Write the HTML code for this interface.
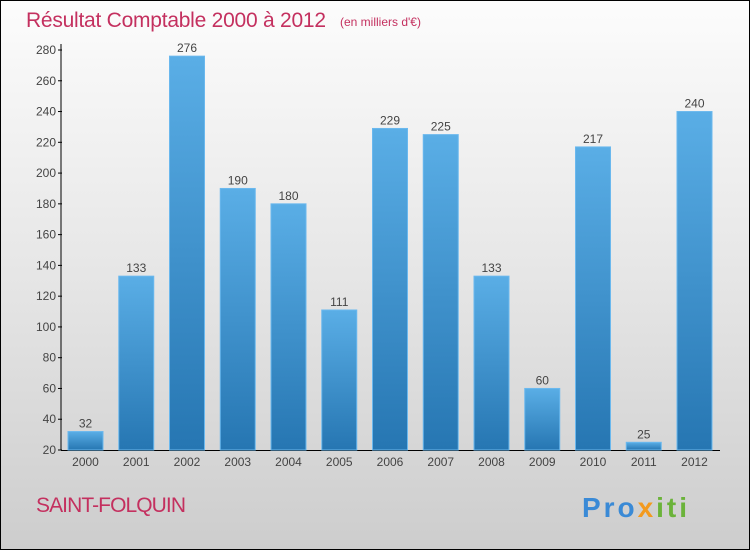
<!DOCTYPE html>
<html><head><meta charset="utf-8"><style>
html,body{margin:0;padding:0;}
body{width:750px;height:550px;overflow:hidden;}
#wrap{position:absolute;left:0;top:0;width:748px;height:548px;border:1px solid #000;background:linear-gradient(#fcfcfc,#e6e6e6 50%,#cdcdcd);}
text{font-family:"Liberation Sans",sans-serif;}
</style></head><body>
<div id="wrap">
<svg id="svg" width="750" height="550" style="position:absolute;left:-1px;top:-1px">
<defs><linearGradient id="bg" x1="0" y1="0" x2="0" y2="1"><stop offset="0" stop-color="#5aaee6"/><stop offset="1" stop-color="#2676b2"/></linearGradient></defs>
<text x="26" y="27" font-size="21" fill="#c4305f" textLength="300">Résultat Comptable 2000 à 2012</text>
<text x="340" y="26" font-size="12" fill="#c4305f">(en milliers d'€)</text>
<text x="36" y="512" font-size="21" fill="#c4305f" textLength="150">SAINT-FOLQUIN</text>
<text x="582" y="517" font-size="28" font-weight="bold" fill="#3a8ad6" textLength="105">Pro<tspan fill="#f39a1e">x</tspan><tspan fill="#6bb33a">iti</tspan></text>
<g id="g"></g>
</svg>
</div>
<script>
const years=["2000","2001","2002","2003","2004","2005","2006","2007","2008","2009","2010","2011","2012"];
const values=[32,133,276,190,180,111,229,225,133,60,217,25,240];
const ticks=[20,40,60,80,100,120,140,160,180,200,220,240,260,280];
const NS="http://www.w3.org/2000/svg";
const g=document.getElementById('g');
const y=v=>450-(v-20)*400/260;
const x=i=>85.5+i*50.75;
function mk(t,a){const e=document.createElementNS(NS,t);for(const k in a)e.setAttribute(k,a[k]);g.appendChild(e);return e;}
let ax=mk('line',{x1:61,y1:44,x2:61,y2:450,stroke:'#000','stroke-width':1});


let bx=mk('line',{x1:61,y1:450.5,x2:720,y2:450.5,stroke:'#000','stroke-width':1});


ticks.forEach(t=>{
 const l=mk('line',{x1:58,x2:62,y1:y(t),y2:y(t),stroke:'#000'});
 
 
 const tx=mk('text',{x:56,y:y(t)+4,'font-size':12,fill:'#444','text-anchor':'end'});
 tx.textContent=t;
 
 
});
values.forEach((v,i)=>{
 const r=mk('rect',{x:x(i)-17.5,y:y(v),width:35,height:450-y(v),fill:'url(#bg)',stroke:'#6ab8ee','stroke-width':1});
 
 
 const vl=mk('text',{x:x(i),y:y(v)-4,'font-size':12,fill:'#444','text-anchor':'middle'});
 vl.textContent=v;
 
 
 const xl=mk('text',{x:x(i),y:466,'font-size':12,fill:'#444','text-anchor':'middle'});
 xl.textContent=years[i];
 
 
});
</script>
</body></html>
